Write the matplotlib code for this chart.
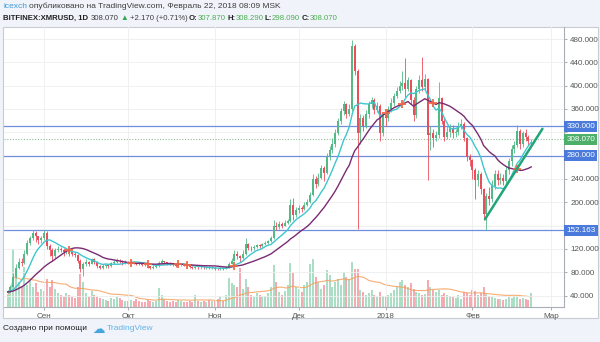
import matplotlib
matplotlib.use("Agg")
import matplotlib.pyplot as plt
import matplotlib.dates as mdates
from matplotlib.patches import Rectangle
from matplotlib.transforms import blended_transform_factory
import numpy as np
import pandas as pd

plt.rcParams['font.family'] = ['Liberation Sans', 'DejaVu Sans']

# BITFINEX:XMRUSD daily candles, 2017-08-19 .. 2018-02-22
start_date = '2017-08-19'
first_open = 45.0
last_open = 307.87

closes_aug = [47, 55, 72, 88, 98, 96, 112, 130, 138, 147, 142, 135, 138]
highs_aug = [50, 58, 78, 95, 104, 104, 118, 136, 142, 152, 150, 142, 142]
lows_aug = [44, 46, 54, 70, 86, 90, 95, 110, 126, 135, 132, 128, 130]

closes_sep = [147, 125, 118, 108, 118, 120, 118, 114, 117, 114,
              112, 110, 100, 86, 94, 97, 95, 102, 98, 91,
              88, 90, 92, 90, 96, 98, 100, 99, 97, 98]
highs_sep = [152, 150, 128, 121, 122, 125, 124, 122, 120, 119,
             117, 115, 112, 102, 97, 102, 100, 105, 104, 99,
             93, 94, 95, 94, 98, 101, 104, 103, 101, 101]
lows_sep = [135, 120, 108, 100, 104, 114, 114, 108, 111, 108,
            108, 106, 96, 80, 74, 90, 90, 94, 95, 88,
            85, 86, 87, 88, 89, 94, 96, 96, 93, 95]

closes_oct = [97, 98, 96, 95, 94, 93, 92, 90, 88, 89,
              90, 96, 99, 97, 95, 94, 92, 91, 92, 93,
              92, 91, 89, 88, 88, 87, 88, 87, 88, 87, 88]
highs_oct = [100, 101, 99, 98, 97, 96, 94, 93, 91, 92,
             92, 100, 102, 100, 98, 97, 95, 94, 94, 95,
             95, 93, 92, 91, 90, 90, 90, 90, 90, 90, 90]
lows_oct = [94, 95, 94, 93, 92, 90, 90, 87, 85, 86,
            87, 89, 94, 94, 92, 92, 90, 89, 89, 90,
            90, 88, 87, 86, 85, 85, 86, 85, 86, 85, 86]

closes_nov = [86, 85, 87, 86, 88, 95, 100, 112, 108, 104,
              112, 128, 122, 121, 124, 126, 125, 128, 130, 133,
              138, 160, 158, 163, 160, 165, 168, 195, 178, 186]
highs_nov = [89, 88, 89, 88, 90, 98, 104, 118, 116, 110,
             118, 138, 130, 125, 127, 129, 129, 131, 133, 136,
             142, 170, 166, 168, 166, 169, 172, 205, 207, 192]
lows_nov = [84, 83, 84, 84, 85, 87, 94, 99, 103, 97,
            103, 110, 118, 117, 119, 122, 122, 124, 126, 129,
            132, 137, 152, 155, 156, 159, 162, 166, 170, 175]

closes_dec = [190, 188, 196, 200, 212, 240, 232, 242, 258, 250,
              278, 290, 300, 318, 340, 356, 368, 352, 360, 468,
              425, 318, 345, 330, 352, 368, 375, 358, 365, 318, 350]
highs_dec = [196, 194, 200, 206, 218, 248, 245, 250, 264, 262,
             284, 296, 310, 326, 345, 362, 374, 370, 368, 478,
             472, 428, 352, 350, 358, 374, 380, 378, 372, 368, 355]
lows_dec = [182, 183, 186, 194, 198, 210, 225, 228, 240, 236,
            248, 272, 285, 295, 315, 335, 350, 345, 348, 356,
            418, 155, 300, 322, 328, 345, 362, 352, 355, 305, 314]

closes_jan = [345, 360, 370, 382, 390, 400, 405, 395, 410, 375,
              350, 395, 410, 398, 412, 315, 318, 310, 315, 378,
              340, 312, 320, 325, 318, 320, 330, 335, 310, 278, 272]
highs_jan = [355, 365, 378, 388, 398, 408, 425, 447, 415, 412,
             380, 400, 418, 450, 420, 413, 330, 325, 322, 406,
             380, 345, 330, 334, 332, 326, 338, 342, 338, 312, 282]
lows_jan = [330, 340, 355, 365, 378, 388, 392, 380, 390, 368,
            340, 345, 388, 390, 392, 238, 290, 295, 305, 310,
            335, 305, 308, 312, 310, 312, 315, 325, 305, 270, 262]

closes_feb = [255, 238, 248, 222, 180, 210, 205, 228, 248, 238,
              242, 236, 255, 270, 292, 298, 322, 300, 318, 312,
              305.9, 308.07]
highs_feb = [275, 258, 255, 252, 224, 216, 226, 238, 255, 256,
             250, 248, 262, 276, 298, 305, 332, 325, 322, 325,
             316, 308.29]
lows_feb = [240, 205, 228, 215, 170, 152.163, 195, 200, 222, 230,
            232, 230, 232, 248, 262, 285, 295, 292, 295, 305,
            298, 298.09]

# volume, thousand XMR
volumes = [12, 18, 58, 30, 25, 20, 40, 22, 26, 20, 24, 15, 18,
           16, 28, 20, 27, 18, 14, 12, 10, 14, 12, 10, 9, 20, 33, 25, 14, 10, 16, 12, 10,
           9, 8, 7, 6, 9, 8, 10, 9, 7, 6,
           6, 7, 6, 8, 6, 5, 5, 7, 6, 5, 6, 19, 12, 8, 6, 5, 6, 5, 7, 6,
           5, 5, 6, 5, 12, 6, 5, 6, 5, 7, 6,
           6, 8, 10, 6, 12, 29, 24, 22, 20, 39, 18, 28, 20, 12, 10, 14, 12, 10, 11, 14,
           20, 42, 25, 15, 12, 16, 22, 44, 34, 20,
           18, 15, 22, 25, 43, 48, 30, 25, 18, 22, 37, 32, 20, 25, 28, 22, 35, 30, 28, 45,
           38, 38, 17, 15, 12, 14, 17, 12, 10, 15, 11,
           10, 12, 14, 17, 20, 25, 27, 22, 20, 24, 18, 15, 14, 12, 13, 27, 20, 17, 15, 17,
           12, 14, 12, 11, 10, 9, 12, 8, 15, 14, 12,
           17, 16, 12, 14, 20, 13, 11, 10, 9, 8, 8, 7, 8, 10, 9, 11, 10, 8, 9, 8, 7, 14]

# closes before the visible range, only used to seed the moving averages
warmup_closes = [44, 45, 46, 45, 44, 46, 48, 47, 46, 45, 44,
                 46, 47, 49, 48, 47, 46, 45, 46, 47, 46]

levels = [330.0, 280.0, 152.163]
last_price = 308.07
trend_dates = ['2018-02-05 12:00', '2018-02-26']
trend_prices = [171, 326]

price_ticks = list(range(40, 481, 40))
hidden_ticks = [160, 280, 320]   # sit under the level boxes
month_ticks = ['2017-09-01', '2017-10-01', '2017-11-01', '2017-12-01',
               '2018-01-01', '2018-02-01', '2018-03-01']
month_labels = ['Сен', 'Окт', 'Ноя', 'Дек', '2018', 'Фев', 'Мар']

closes = closes_aug + closes_sep + closes_oct + closes_nov + closes_dec + closes_jan + closes_feb
highs = highs_aug + highs_sep + highs_oct + highs_nov + highs_dec + highs_jan + highs_feb
lows = lows_aug + lows_sep + lows_oct + lows_nov + lows_dec + lows_jan + lows_feb
opens = [first_open] + closes[:-1]
opens[-1] = last_open

dates = pd.date_range(start_date, periods=len(closes), freq='D')
x = mdates.date2num(dates)
o, h, l, c = map(np.asarray, (opens, highs, lows, closes))
up = c >= o

all_closes = pd.Series(warmup_closes + closes, dtype=float)
n0 = len(warmup_closes)
ma_fast = all_closes.rolling(9).mean().to_numpy()[n0:]
ma_slow = all_closes.rolling(21).mean().to_numpy()[n0:]
vol_ma = pd.Series(volumes, dtype=float).rolling(20, min_periods=1).mean().to_numpy()

W, H = 600, 342
fig = plt.figure(figsize=(W / 100, H / 100), dpi=100)
fig.patch.set_facecolor('#f0f3fa')

# white chart frame
fig.patches.append(Rectangle((3 / W, 1 - 318 / H), 595 / W, 291 / H, transform=fig.transFigure,
                             facecolor='white', edgecolor='#c9ccd3', linewidth=0.8, zorder=-5))

rect = [4 / W, 1 - 307 / H, 560 / W, 280 / H]
axv = fig.add_axes(rect, zorder=1)
ax = fig.add_axes(rect, sharex=axv, zorder=2)
ax.patch.set_alpha(0)
axv.patch.set_alpha(0)

GREEN, RED = '#53b987', '#eb4d5c'
colors = np.where(up, GREEN, RED)

# volume
axv.bar(x, volumes, width=0.7, color=colors, alpha=0.48, linewidth=0)
axv.plot(x, vol_ma, color='#f5a05a', lw=0.8, alpha=0.85)
axv.set_ylim(0, 280)
axv.axis('off')

# grid
for v in price_ticks:
    ax.axhline(v, color='#eeeeee', lw=0.6, zorder=0)
for m in month_ticks:
    ax.axvline(mdates.datestr2num(m), color='#eeeeee', lw=0.6, zorder=0)

# levels
for lv in levels:
    ax.axhline(lv, color='#6f8fdc', lw=0.9, zorder=1)
ax.axhline(last_price, color='#8fbf9a', lw=0.8, ls=(0, (1, 1.5)), zorder=1)

# candles
ax.vlines(x, l, h, colors=colors, lw=0.6, zorder=3)
body = np.maximum(np.abs(c - o), 0.6)
ax.bar(x, body, bottom=np.minimum(o, c), width=0.7, color=colors, linewidth=0, zorder=4)

# moving averages
ax.plot(x, ma_fast, color='#3ec6cf', lw=1.0, zorder=5)
ax.plot(x, ma_slow, color='#7a2b72', lw=1.0, zorder=5)

# crossing points of the two averages
diff = ma_fast - ma_slow
cross = np.where(np.sign(diff[1:]) != np.sign(diff[:-1]))[0] + 1
ax.plot(x[cross], ma_slow[cross], ls='none', marker='P', ms=5.5, color='#ef6a47',
        markeredgewidth=0, alpha=0.9, zorder=6)

# trend line
ax.plot(mdates.datestr2num(trend_dates), trend_prices, color='#23a57a', lw=1.8,
        solid_capstyle='round', zorder=7)

ax.set_xlim(mdates.datestr2num('2017-09-01') - 14.3, mdates.datestr2num('2017-09-01') + 185.7)
ax.set_ylim(20.4, 500.6)

ax.yaxis.tick_right()
ax.set_yticks(price_ticks)
ax.set_yticklabels(['' if v in hidden_ticks else f'{v:.3f}' for v in price_ticks])
ax.set_xticks(mdates.datestr2num(month_ticks))
ax.set_xticklabels(month_labels)
ax.tick_params(axis='both', labelsize=5.8, labelcolor='#555555', color='#a0a0a0',
               length=2.5, width=0.6, pad=2)
for side in ('top', 'left'):
    ax.spines[side].set_visible(False)
for side in ('right', 'bottom'):
    ax.spines[side].set_color('#a9adb5')
    ax.spines[side].set_linewidth(0.8)

# price labels on the axis
tr = blended_transform_factory(ax.transAxes, ax.transData)
for lv in levels:
    ax.text(1.004, lv, f'{lv:.3f}', transform=tr, fontsize=5.8, color='white', va='center',
            ha='left', bbox=dict(boxstyle='square,pad=0.25', fc='#4a7bdc', ec='none'),
            zorder=10, clip_on=False)
ax.text(1.004, last_price, f'{last_price:.3f}', transform=tr, fontsize=5.8, color='white',
        va='center', ha='left', bbox=dict(boxstyle='square,pad=0.25', fc='#4caf6a', ec='none'),
        zorder=11, clip_on=False)


def text_run(x0, y0, pieces, size=6):
    renderer = fig.canvas.get_renderer()
    xp = x0
    for s, color, weight, gap, *extra in pieces:
        kw = dict(extra[0]) if extra else {}
        kw.setdefault('fontsize', size)
        t = fig.text(xp / W, 1 - y0 / H, s, color=color, fontweight=weight,
                     va='center', ha='left', **kw)
        xp += t.get_window_extent(renderer=renderer).width + gap


DARK = '#3c3c3c'
VAL = '#4caf50'
text_run(3, 6, [('icexch', '#3d9ad9', 'normal', 2),
                ('опубликовано на TradingView.com, Февраль 22, 2018 08:09 MSK', DARK, 'normal', 0)])
text_run(3, 18, [('BITFINEX:XMRUSD, 1D', '#222222', 'bold', 3),
                 ('308.070', DARK, 'normal', 1.5),
                 ('▲', '#2fa84f', 'normal', 1.5),
                 ('+2.170 (+0.71%)', DARK, 'normal', 1.5),
                 ('O:', '#222222', 'bold', 0), ('307.870', VAL, 'normal', 1.5),
                 ('H:', '#222222', 'bold', 0), ('308.290', VAL, 'normal', 1.5),
                 ('L:', '#222222', 'bold', 0), ('298.090', VAL, 'normal', 1.5),
                 ('C:', '#222222', 'bold', 0), ('308.070', VAL, 'normal', 0)], size=5.6)

text_run(3, 329, [('Создано при помощи', '#222222', 'normal', 5),
                  ('☁', '#45a6df', 'normal', 2, {'fontsize': 9, 'family': 'DejaVu Sans'}),
                  ('TradingView', '#5fb4e6', 'normal', 0)], size=6)

fig.savefig('out.png', dpi=100, facecolor=fig.get_facecolor())
